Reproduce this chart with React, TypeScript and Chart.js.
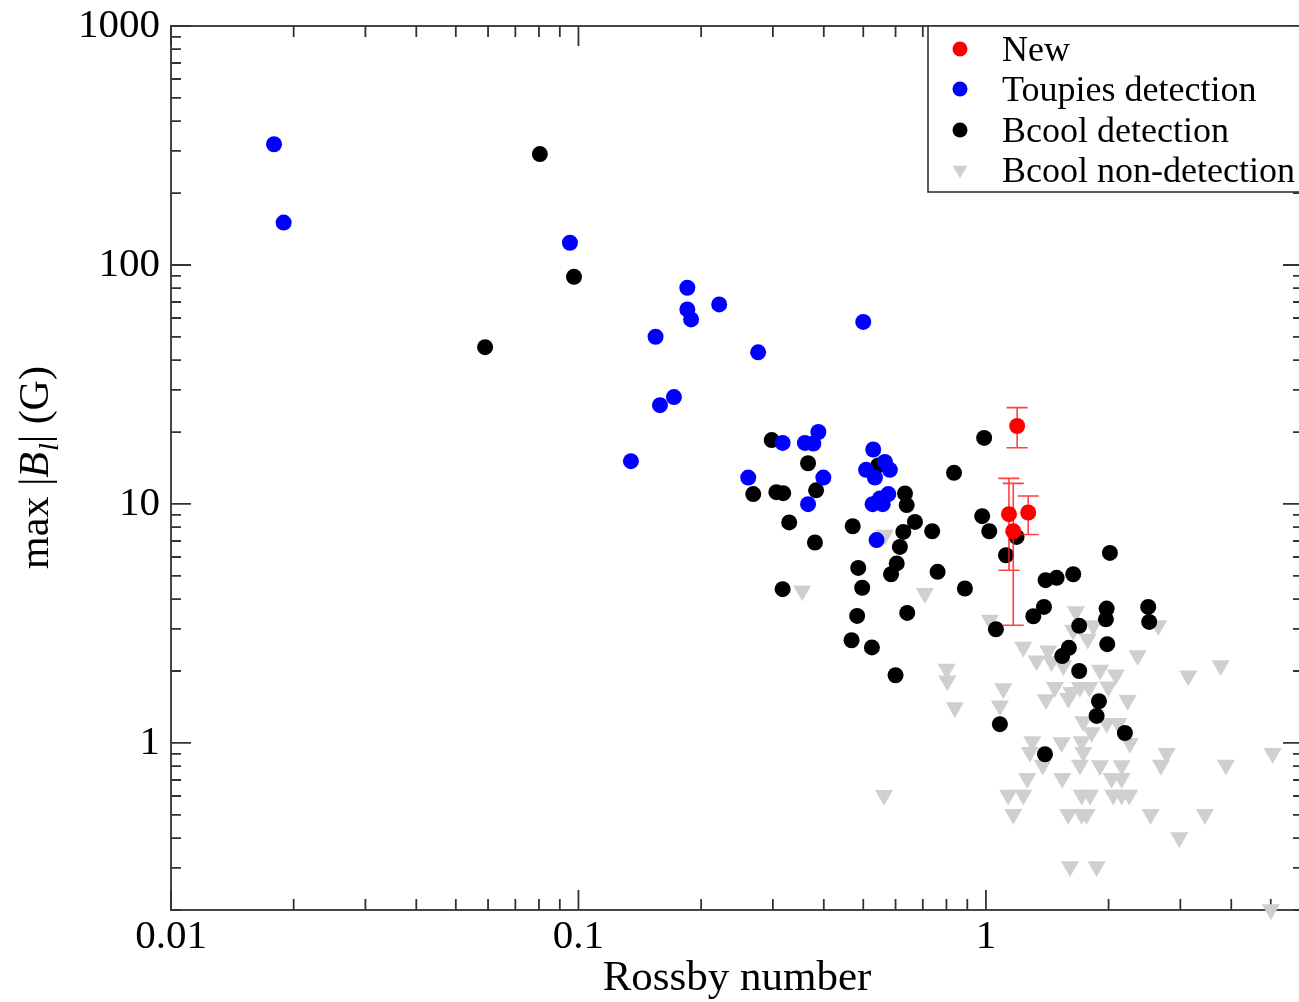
import React, { useEffect, useRef } from 'react';
import { Chart, registerables } from 'chart.js';

Chart.register(...registerables);

// ---------- data ----------
const newX = [1.139, 1.167, 1.27, 1.193];
const newY = [9.06, 7.69, 9.21, 21.2];
const newLow = [5.28, 3.11, 7.45, 17.2];
const newHigh = [12.8, 12.2, 10.8, 25.3];

const toupiesX = [0.0179, 0.0189, 0.0953, 0.185, 0.185, 0.189, 0.2215, 0.1546, 0.276, 0.5, 0.1585, 0.1715, 0.1345, 0.261, 0.317, 0.3595, 0.377, 0.388, 0.399, 0.366, 0.529, 0.508, 0.565, 0.581, 0.534, 0.527, 0.5495, 0.576, 0.558, 0.539];
const toupiesY = [320, 150.5, 123.9, 80.3, 65.2, 59.2, 68.4, 50.1, 43.1, 57.8, 25.9, 28.0, 15.1, 12.9, 18.0, 18.0, 17.9, 20.0, 12.9, 9.98, 16.9, 13.9, 15.0, 13.9, 12.9, 9.98, 10.55, 11.0, 9.98, 7.06];

const bcoolX = [0.0804, 0.0975, 0.059, 0.298, 0.366, 0.2685, 0.306, 0.318, 0.383, 0.329, 0.3805, 0.471, 0.544, 0.317, 0.99, 0.835, 0.633, 0.639, 0.6695, 0.627, 0.738, 0.615, 0.604, 0.585, 0.486, 0.497, 0.761, 0.888, 0.979, 1.019, 1.189, 1.12, 0.483, 0.641, 0.468, 0.525, 0.6, 1.058, 1.307, 1.388, 1.401, 1.491, 1.638, 1.694, 1.598, 1.539, 1.694, 2.015, 1.978, 1.97, 2.502, 2.516, 1.985, 1.894, 1.869, 2.193, 1.082, 1.396];
const bcoolY = [291, 89.2, 45.3, 18.5, 14.8, 11.0, 11.2, 11.1, 11.4, 8.37, 6.9, 8.07, 14.5, 4.4, 18.9, 13.5, 11.07, 9.89, 8.41, 7.64, 7.69, 6.61, 5.64, 5.08, 5.4, 4.46, 5.2, 4.43, 8.89, 7.69, 7.28, 6.1, 3.4, 3.5, 2.69, 2.51, 1.92, 2.99, 3.39, 3.71, 4.8, 4.91, 5.08, 3.09, 2.5, 2.31, 2.0, 6.24, 3.65, 3.29, 3.71, 3.21, 2.59, 1.495, 1.297, 1.101, 1.198, 0.897];

const nonDetX = [0.708, 0.354, 1.023, 1.663, 1.834, 1.638, 1.777, 2.648, 1.235, 1.422, 1.331, 1.449, 1.548, 2.357, 3.767, 0.801, 0.804, 0.839, 1.905, 2.084, 3.137, 1.103, 1.082, 1.476, 1.404, 1.592, 1.623, 1.701, 1.793, 1.996, 2.227, 1.733, 1.817, 1.978, 2.112, 2.256, 1.299, 1.534, 1.718, 1.282, 1.733, 2.776, 5.053, 1.378, 1.701, 1.905, 2.153, 2.689, 3.881, 1.263, 1.539, 2.034, 2.153, 1.134, 1.235, 1.718, 1.8, 2.053, 2.153, 2.247, 1.167, 1.592, 1.718, 1.766, 2.536, 3.446, 2.982, 1.608, 1.869, 5.004, 0.562, 0.565];
const nonDetY = [4.23, 4.33, 3.27, 3.55, 3.1, 2.97, 2.72, 3.1, 2.52, 2.43, 2.21, 2.19, 2.11, 2.32, 2.11, 2.04, 1.82, 1.406, 2.02, 1.93, 1.91, 1.69, 1.43, 1.71, 1.52, 1.54, 1.63, 1.71, 1.71, 1.72, 1.51, 1.229, 1.105, 1.209, 1.209, 0.997, 1.014, 1.004, 1.014, 0.914, 0.914, 0.906, 0.906, 0.809, 0.809, 0.804, 0.804, 0.809, 0.809, 0.711, 0.711, 0.711, 0.711, 0.606, 0.606, 0.606, 0.606, 0.606, 0.606, 0.606, 0.503, 0.503, 0.503, 0.503, 0.503, 0.503, 0.402, 0.304, 0.304, 0.201, 0.604, 7.42];

const seriesLabels = ['New', 'Toupies detection', 'Bcool detection', 'Bcool non-detection'];
const seriesColors = ['#ff0000', '#0000ff', '#000000', '#cfcfcf'];

const xTickLabels = ['0.01', '0.1', '1'];
const yTickLabels = ['1', '10', '100', '1000'];
const xTitle = 'Rossby number';

const FAMILY = "'Liberation Serif', 'DejaVu Serif', 'Times New Roman', serif";

const pts = (xs: number[], ys: number[]) => xs.map((x, i) => ({ x, y: ys[i] }));

const fmt = (v: number) => String(Number(v.toPrecision(6)));
const isDecade = (v: number) => Math.abs(Math.log10(v) - Math.round(Math.log10(v))) < 1e-6;
const isIntMult = (v: number) => {
  const m = v / Math.pow(10, Math.floor(Math.log10(v) + 1e-9));
  return Math.abs(m - Math.round(m)) < 1e-6;
};

// ---------- plugins ----------
const framePlugin = {
  id: 'frame',
  beforeDatasetsDraw(chart: any) {
    const { ctx, chartArea: a, scales } = chart;
    const xs = scales.x;
    const ys = scales.y;
    ctx.save();
    ctx.strokeStyle = '#333333';
    ctx.lineWidth = 1.8;
    ctx.strokeRect(a.left, a.top, a.right - a.left, a.bottom - a.top);
    ctx.beginPath();
    xs.ticks.forEach((t: any) => {
      const v = t.value;
      if (!isIntMult(v)) return;
      const p = xs.getPixelForValue(v);
      if (p < a.left - 0.5 || p > a.right + 0.5) return;
      const len = isDecade(v) ? 20 : 11;
      ctx.moveTo(p, a.bottom);
      ctx.lineTo(p, a.bottom - len);
      ctx.moveTo(p, a.top);
      ctx.lineTo(p, a.top + len);
    });
    ys.ticks.forEach((t: any) => {
      const v = t.value;
      if (!isIntMult(v)) return;
      const p = ys.getPixelForValue(v);
      if (p < a.top - 0.5 || p > a.bottom + 0.5) return;
      const len = isDecade(v) ? 20 : 10;
      ctx.moveTo(a.left, p);
      ctx.lineTo(a.left + len, p);
      ctx.moveTo(a.right, p);
      ctx.lineTo(a.right - len, p);
    });
    ctx.stroke();
    ctx.restore();
  },
};

const errorBarPlugin = {
  id: 'errorBars',
  beforeDatasetDraw(chart: any, args: any) {
    if (args.index !== 0) return;
    const { ctx, scales } = chart;
    ctx.save();
    ctx.strokeStyle = 'rgba(255,30,30,0.85)';
    ctx.lineWidth = 1.6;
    ctx.beginPath();
    newX.forEach((x, i) => {
      const px = scales.x.getPixelForValue(x);
      const top = scales.y.getPixelForValue(newHigh[i]);
      const bot = scales.y.getPixelForValue(newLow[i]);
      ctx.moveTo(px, top);
      ctx.lineTo(px, bot);
      ctx.moveTo(px - 10.5, top);
      ctx.lineTo(px + 10.5, top);
      ctx.moveTo(px - 10.5, bot);
      ctx.lineTo(px + 10.5, bot);
    });
    ctx.stroke();
    ctx.restore();
  },
};

const legendPlugin = {
  id: 'boxLegend',
  afterDraw(chart: any) {
    const { ctx, chartArea: a } = chart;
    const left = a.right - 375;
    const top = a.top;
    const h = 166;
    ctx.save();
    ctx.fillStyle = '#ffffff';
    ctx.fillRect(left, top, a.right - left, h);
    ctx.strokeStyle = '#333333';
    ctx.lineWidth = 1.6;
    ctx.strokeRect(left, top, a.right - left + 20, h);
    const rows = [23, 63, 104, 144];
    chart.data.datasets.forEach((ds: any, i: number) => {
      const cy = top + rows[i];
      const cx = left + 32;
      ctx.fillStyle = ds.backgroundColor;
      ctx.beginPath();
      if (ds.pointStyle === 'triangle') {
        const r = 8.5;
        ctx.moveTo(cx - r * 0.866, cy - r / 2);
        ctx.lineTo(cx + r * 0.866, cy - r / 2);
        ctx.lineTo(cx, cy + r);
        ctx.closePath();
      } else {
        ctx.arc(cx, cy, 7.5, 0, Math.PI * 2);
      }
      ctx.fill();
      ctx.fillStyle = '#000000';
      ctx.font = `36px ${FAMILY}`;
      ctx.textBaseline = 'alphabetic';
      ctx.textAlign = 'left';
      ctx.fillText(ds.label, left + 74, cy + 11.5);
    });
    ctx.restore();
  },
};

const yTitlePlugin = {
  id: 'yTitle',
  afterDraw(chart: any) {
    const { ctx, chartArea: a } = chart;
    const parts = [
      { t: 'max |', f: `42px ${FAMILY}`, dy: 0 },
      { t: 'B', f: `italic 42px ${FAMILY}`, dy: 0 },
      { t: 'l', f: `italic 28px ${FAMILY}`, dy: 10 },
      { t: '| (G)', f: `42px ${FAMILY}`, dy: 0 },
    ];
    ctx.save();
    let total = 0;
    const widths = parts.map((p) => {
      ctx.font = p.f;
      const w = ctx.measureText(p.t).width;
      total += w;
      return w;
    });
    ctx.translate(48, (a.top + a.bottom) / 2);
    ctx.rotate(-Math.PI / 2);
    ctx.fillStyle = '#000000';
    ctx.textBaseline = 'alphabetic';
    ctx.textAlign = 'left';
    let x = -total / 2;
    parts.forEach((p, i) => {
      ctx.font = p.f;
      ctx.fillText(p.t, x, p.dy);
      x += widths[i] + (i === 1 ? 1 : 0);
    });
    ctx.restore();
  },
};

export default function App() {
  const ref = useRef<HTMLCanvasElement>(null);
  useEffect(() => {
    if (!ref.current) return;
    const chart = new Chart(ref.current, {
      type: 'scatter',
      data: {
        datasets: [
          { label: seriesLabels[0], data: pts(newX, newY), backgroundColor: seriesColors[0], pointRadius: 8, pointBorderWidth: 0, clip: false } as any,
          { label: seriesLabels[1], data: pts(toupiesX, toupiesY), backgroundColor: seriesColors[1], pointRadius: 8, pointBorderWidth: 0, clip: false } as any,
          { label: seriesLabels[2], data: pts(bcoolX, bcoolY), backgroundColor: seriesColors[2], pointRadius: 8, pointBorderWidth: 0, clip: false } as any,
          { label: seriesLabels[3], data: pts(nonDetX, nonDetY), backgroundColor: seriesColors[3], pointStyle: 'triangle', pointRotation: 180, pointRadius: 10.5, pointBorderWidth: 0, clip: false } as any,
        ],
      },
      options: {
        animation: false,
        responsive: false,
        devicePixelRatio: 1,
        events: [],
        layout: { padding: { left: 0, top: 26, right: 17, bottom: 0 } },
        plugins: { legend: { display: false }, tooltip: { enabled: false } },
        scales: {
          x: {
            type: 'logarithmic',
            position: 'bottom',
            min: 0.01,
            max: 6,
            grid: { display: false, drawTicks: false },
            border: { display: false },
            ticks: {
              autoSkip: false,
              maxRotation: 0,
              padding: 3,
              color: '#000000',
              font: { family: FAMILY, size: 41 },
              callback: (v: any) => {
                const s = fmt(Number(v));
                return xTickLabels.includes(s) && isDecade(Number(v)) ? s : '';
              },
            },
            title: { display: true, text: xTitle, color: '#000000', font: { family: FAMILY, size: 43, lineHeight: 1 }, padding: { top: 0, bottom: 2 } },
            afterFit: (s: any) => {
              s.height = 92;
              s.paddingLeft = 0;
              s.paddingRight = 0;
              s.paddingTop = 0;
              s.paddingBottom = 0;
            },
          },
          y: {
            type: 'logarithmic',
            position: 'left',
            min: 0.2,
            max: 1000,
            grid: { display: false, drawTicks: false },
            border: { display: false },
            ticks: {
              autoSkip: false,
              padding: 11,
              color: '#000000',
              font: { family: FAMILY, size: 41 },
              callback: (v: any) => {
                const s = fmt(Number(v));
                return yTickLabels.includes(s) && isDecade(Number(v)) ? s : '';
              },
            },
            afterFit: (s: any) => {
              s.width = 171;
              s.paddingTop = 0;
              s.paddingBottom = 0;
              s.paddingLeft = 0;
              s.paddingRight = 0;
            },
          },
        },
      } as any,
      plugins: [framePlugin, errorBarPlugin, legendPlugin, yTitlePlugin],
    });
    return () => chart.destroy();
  }, []);
  return (
    <div style={{ position: 'fixed', left: 0, top: 0, width: 1299, height: 1002, overflow: 'hidden', background: '#ffffff' }}>
      <canvas ref={ref} width={1320} height={1002} style={{ display: 'block', width: 1320, height: 1002 }} />
    </div>
  );
}
